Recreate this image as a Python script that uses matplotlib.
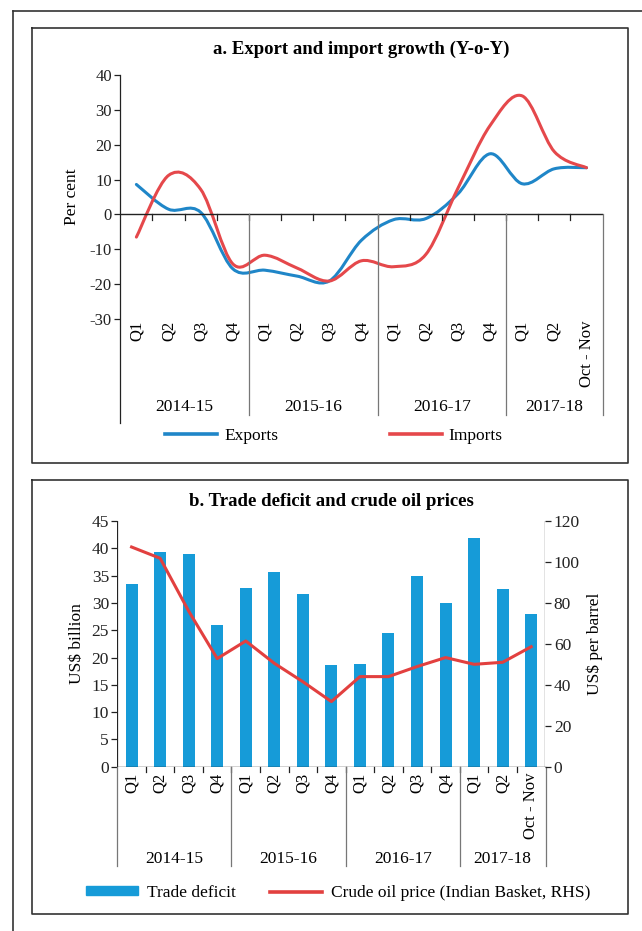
import numpy as np
import matplotlib
matplotlib.use("Agg")
import matplotlib.pyplot as plt
from matplotlib.path import Path
from matplotlib.patches import PathPatch, Patch
from matplotlib.lines import Line2D

plt.rcParams['font.family'] = ['Liberation Serif', 'DejaVu Serif']
plt.rcParams['axes.unicode_minus'] = False

# data
quarters = ['Q1', 'Q2', 'Q3', 'Q4', 'Q1', 'Q2', 'Q3', 'Q4', 'Q1', 'Q2', 'Q3', 'Q4', 'Q1', 'Q2', 'Oct - Nov']
years = ['2014-15', '2015-16', '2016-17', '2017-18']
year_sizes = [4, 4, 4, 3]

exports = [8.6, 1.5, 0.6, -15.6, -16.0, -17.7, -19.1, -7.4, -1.5, -1.2, 5.9, 17.4, 8.8, 13.1, 13.4]
imports = [-6.5, 11.2, 7.2, -14.2, -11.7, -15.4, -19.1, -13.3, -15.0, -11.5, 7.5, 25.5, 34.0, 18.0, 13.4]

trade_deficit = [33.4, 39.4, 38.9, 25.9, 32.8, 35.7, 31.6, 18.6, 18.9, 24.4, 35.0, 30.0, 41.8, 32.5, 27.9]
crude_oil = [107.3, 101.8, 76.0, 52.8, 61.4, 50.5, 41.5, 31.8, 44.0, 44.0, 48.9, 53.3, 50.0, 51.0, 58.6]

BLUE = '#1f86c8'
RED = '#e5484b'
BAR = '#169bd8'
OIL = '#e2403f'
W, H = 642, 931


def smooth_path(x, y):
    # excel-like smoothed line as cubic bezier segments
    pts = np.column_stack([x, y]).astype(float)
    n = len(pts)
    verts = [pts[0]]
    codes = [Path.MOVETO]
    for i in range(n - 1):
        p0 = pts[i - 1] if i > 0 else pts[i]
        p1, p2 = pts[i], pts[i + 1]
        p3 = pts[i + 2] if i + 2 < n else pts[i + 1]
        verts += [p1 + (p2 - p0) / 6, p2 - (p3 - p1) / 6, p2]
        codes += [Path.CURVE4] * 3
    return Path(verts, codes)


def fx(px):
    return px / W


def fy(py):
    return 1 - py / H


fig = plt.figure(figsize=(6.42, 9.31), dpi=100)

# frames
frame_kw = dict(color='#333333', lw=1.2, transform=fig.transFigure)
fig.add_artist(Line2D([fx(13), 1], [fy(11), fy(11)], **frame_kw))
fig.add_artist(Line2D([fx(13), fx(13)], [fy(11), 0], **frame_kw))
for top, bot in [(28, 463), (480, 914)]:
    fig.add_artist(Line2D([fx(32), fx(628), fx(628), fx(32), fx(32)],
                          [fy(top), fy(top), fy(bot), fy(bot), fy(top)], **frame_kw))

x = np.arange(len(quarters))

# ---------- panel a ----------
ax1 = fig.add_axes([fx(120.3), fy(319), fx(602.6) - fx(120.3), fy(75) - fy(319)])
ax1.set_xlim(-0.5, 14.5)
ax1.set_ylim(-30, 40)
for s in ['top', 'right', 'bottom', 'left']:
    ax1.spines[s].set_visible(False)
ax1.set_yticks(range(-30, 41, 10))
ax1.tick_params(axis='y', length=4, width=0.9, labelsize=12, pad=2, colors='#222222')
ax1.tick_params(axis='x', bottom=False, labelbottom=False)
ax1.set_ylabel('Per cent', fontsize=12.5, labelpad=7)

px_a = (319 - 75) / 70
ax1.plot([-0.5, -0.5], [40, -30 - (423 - 319) / px_a], color='#222222', lw=0.9, clip_on=False)
ax1.axhline(0, color='#222222', lw=1.0)
ax1.add_patch(PathPatch(smooth_path(x, exports), fill=False, color=BLUE, lw=2.2, capstyle='round'))
ax1.add_patch(PathPatch(smooth_path(x, imports), fill=False, color=RED, lw=2.2, capstyle='round'))

for b in np.arange(0.5, 14, 1):
    ax1.plot([b, b], [0, -1.5], color='#222222', lw=0.9)
edges = np.cumsum([0] + year_sizes) - 0.5
for e in edges[1:]:
    ax1.plot([e, e], [0, -30 - (415 - 319) / px_a], color='#777777', lw=0.9, clip_on=False)
for i, q in enumerate(quarters):
    ax1.text(i, -30.4, q, rotation=90, ha='center', va='top', fontsize=12)
for k, yr in enumerate(years):
    ax1.text((edges[k] + edges[k + 1]) / 2, -30 - (407 - 319) / px_a, yr,
             ha='center', va='center', fontsize=12.5)
ax1.set_title('a. Export and import growth (Y-o-Y)', fontsize=13.5, fontweight='bold',
              y=1 + (75 - 49) / 244, va='center', pad=0)

ax1.legend([Line2D([], [], color=BLUE, lw=2.6), Line2D([], [], color=RED, lw=2.6)],
           ['Exports', 'Imports'], ncol=2, frameon=False, fontsize=12.5,
           handlelength=3.0, handletextpad=0.4, columnspacing=6.4,
           loc='center', bbox_to_anchor=(fx(334), fy(436)),
           bbox_transform=fig.transFigure)

# ---------- panel b ----------
ax2 = fig.add_axes([fx(117.3), fy(766.7), fx(545.5) - fx(117.3), fy(521) - fy(766.7)])
ax2.bar(x, trade_deficit, width=0.42, color=BAR)
ax2.set_xlim(-0.5, 14.5)
ax2.set_ylim(0, 45)
ax2.set_yticks(range(0, 46, 5))
for s in ['top', 'right', 'left', 'bottom']:
    ax2.spines[s].set_visible(False)
ax2.plot([-0.5, -0.5], [0, 45], color='#222222', lw=0.9)
ax2.axhline(0, color='#222222', lw=1.0)
ax2.tick_params(axis='y', length=4, width=0.9, labelsize=12.5, pad=2, colors='#222222')
ax2.tick_params(axis='x', bottom=False, labelbottom=False)
ax2.set_ylabel('US$ billion', fontsize=12.5, labelpad=5)

ax3 = ax2.twinx()
ax3.plot(x, crude_oil, color=OIL, lw=2.2)
ax3.set_ylim(0, 120)
ax3.set_yticks(range(0, 121, 20))
for s in ['top', 'right', 'left', 'bottom']:
    ax3.spines[s].set_visible(False)
ax3.plot([14.5, 14.5], [0, 120], color='#222222', lw=0.9)
ax3.tick_params(axis='y', length=4, width=0.9, labelsize=12.5, pad=2, colors='#222222')
ax3.set_ylabel('US$ per barrel', fontsize=12.5, labelpad=5)

px_b = (766.7 - 521) / 45
for b in np.arange(0.5, 14, 1):
    ax2.plot([b, b], [0, -5 / px_b], color='#222222', lw=0.9, clip_on=False)
for e in edges:
    ax2.plot([e, e], [0, -(866 - 766.7) / px_b], color='#777777', lw=0.9, clip_on=False)
for i, q in enumerate(quarters):
    ax2.text(i, -6 / px_b, q, rotation=90, ha='center', va='top', fontsize=12)
for k, yr in enumerate(years):
    ax2.text((edges[k] + edges[k + 1]) / 2, -(859 - 766.7) / px_b, yr,
             ha='center', va='center', fontsize=12.5)
ax2.set_title('b. Trade deficit and crude oil prices', fontsize=13.5, fontweight='bold',
              y=1 + (521 - 502) / 245.7, va='center', pad=0)

ax2.legend([Patch(color=BAR), Line2D([], [], color=OIL, lw=2.6)],
           ['Trade deficit', 'Crude oil price (Indian Basket, RHS)'], ncol=2,
           frameon=False, fontsize=12.5, handlelength=3.0, handleheight=0.45,
           handletextpad=0.5, columnspacing=2.0,
           loc='center', bbox_to_anchor=(fx(338), fy(893)),
           bbox_transform=fig.transFigure)

fig.savefig('out.png', dpi=100)
